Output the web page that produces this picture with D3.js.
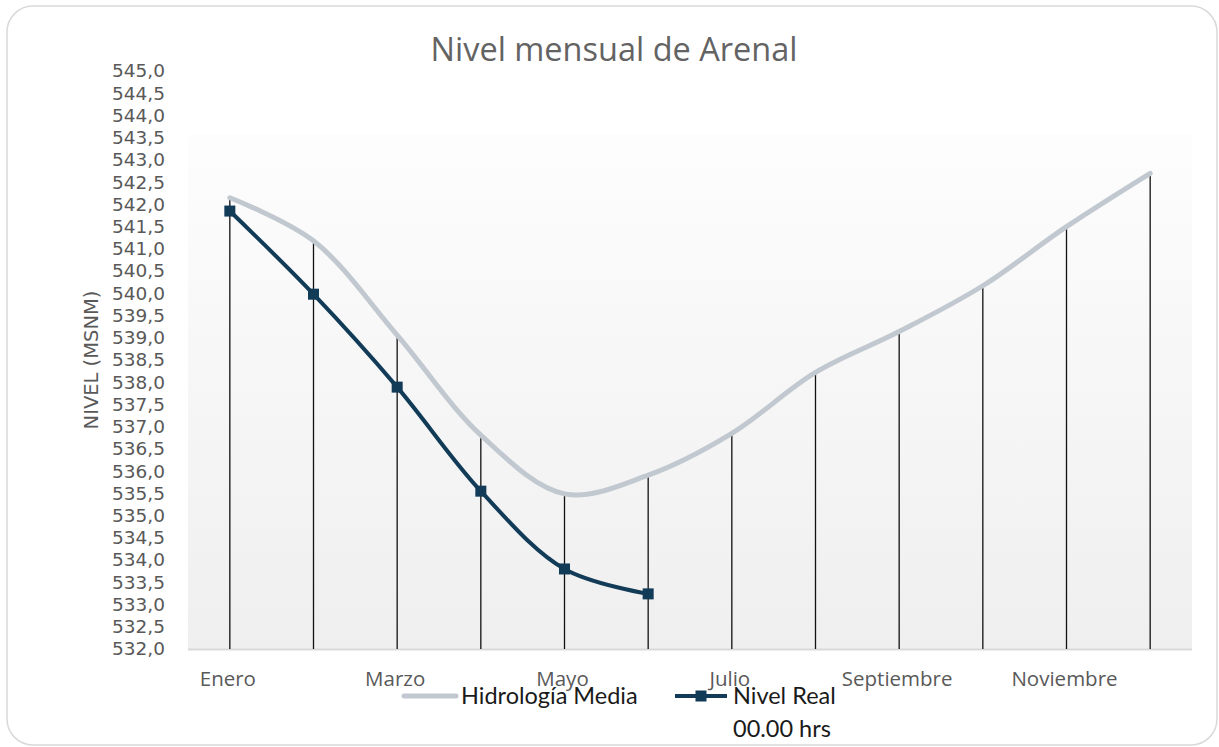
<!DOCTYPE html>
<html>
<head>
<meta charset="utf-8">
<script src="https://cdn.jsdelivr.net/npm/d3@7"></script>
<style>
  body { margin: 0; background: #fff; }
  svg { display: block; }
</style>
</head>
<body>
<svg id="chart"></svg>
<script>
// data
let months = ["Enero", "Febrero", "Marzo", "Abril", "Mayo", "Junio", "Julio",
  "Agosto", "Septiembre", "Octubre", "Noviembre", "Diciembre"];
let hidrologia = [542.15, 541.18, 539.06, 536.81, 535.49, 535.91, 536.85,
  538.22, 539.14, 540.17, 541.5, 542.7];
let nivelReal = [541.85, 539.98, 537.89, 535.55, 533.8, 533.24];
let yTicks = d3.range(532, 545.01, 0.5);

let width = 1219,
  height = 747;
let plot = { left: 188, right: 1192, top: 71, bottom: 649, bgTop: 135 };

let svg = d3.select("#chart").attr("width", width).attr("height", height);

let defs = svg.append("defs");
let grad = defs.append("linearGradient")
  .attr("id", "bg").attr("x1", 0).attr("y1", 0).attr("x2", 0).attr("y2", 1);
grad.append("stop").attr("offset", "0%").attr("stop-color", "#fdfdfd");
grad.append("stop").attr("offset", "100%").attr("stop-color", "#efefef");

// outer frame
svg.append("rect")
  .attr("x", 7).attr("y", 6)
  .attr("width", 1210).attr("height", 739)
  .attr("rx", 26)
  .attr("fill", "#fff")
  .attr("stroke", "#d9d9d9")
  .attr("stroke-width", 1.5);

let x = d3.scaleBand().domain(months).range([plot.left, plot.right]).padding(0);
let cx = (m) => x(m) + x.bandwidth() / 2;
let y = d3.scaleLinear().domain([532, 545]).range([plot.bottom, plot.top]);

// plot area fill
svg.append("rect")
  .attr("x", plot.left).attr("y", plot.bgTop)
  .attr("width", plot.right - plot.left)
  .attr("height", plot.bottom - plot.bgTop)
  .attr("fill", "url(#bg)");

// bottom axis line
svg.append("line")
  .attr("x1", plot.left).attr("x2", plot.right)
  .attr("y1", plot.bottom + 0.5).attr("y2", plot.bottom + 0.5)
  .attr("stroke", "#d9d9d9").attr("stroke-width", 2);

// drop lines from the highest series down to the axis
svg.append("g")
  .selectAll("line")
  .data(months)
  .join("line")
  .attr("x1", (d) => cx(d)).attr("x2", (d) => cx(d))
  .attr("y1", (d, i) => y(Math.max(hidrologia[i], nivelReal[i] ?? -Infinity)))
  .attr("y2", plot.bottom)
  .attr("stroke", "#111").attr("stroke-width", 1.3);

// y axis
let yAxis = svg.append("g")
  .attr("transform", "translate(" + plot.left + ",0)")
  .call(d3.axisLeft(y).tickValues(yTicks).tickSize(0).tickPadding(23)
    .tickFormat((d) => d.toFixed(1).replace(".", ",")));
yAxis.select(".domain").remove();
yAxis.selectAll("text")
  .attr("font-family", "DejaVu Sans")
  .attr("font-size", "18.5px")
  .attr("fill", "#595959");

// x axis labels, every other month
svg.append("g")
  .selectAll("text")
  .data(months.filter((d, i) => i % 2 == 0))
  .join("text")
  .attr("x", (d) => cx(d) - 2)
  .attr("y", 686)
  .attr("text-anchor", "middle")
  .attr("font-family", "Open Sans")
  .attr("font-size", "20.5px")
  .attr("fill", "#595959")
  .text((d) => d);

// axis title
svg.append("text")
  .attr("transform", "translate(98,360) rotate(-90)")
  .attr("text-anchor", "middle")
  .attr("font-family", "DejaVu Sans")
  .attr("font-size", "19.5px")
  .attr("fill", "#595959")
  .text("NIVEL (MSNM)");

// chart title
svg.append("text")
  .attr("x", 614).attr("y", 61)
  .attr("text-anchor", "middle")
  .attr("font-family", "Open Sans")
  .attr("font-size", "32.5px")
  .attr("fill", "#636363")
  .text("Nivel mensual de Arenal");

let curve = d3.curveCatmullRom.alpha(0.5);

let line1 = d3.line()
  .x((d, i) => cx(months[i]))
  .y((d) => y(d))
  .curve(curve);

svg.append("path")
  .datum(hidrologia)
  .attr("fill", "none")
  .attr("stroke", "#c1c8d0")
  .attr("stroke-width", 5)
  .attr("stroke-linecap", "round")
  .attr("d", line1);

svg.append("path")
  .datum(nivelReal)
  .attr("fill", "none")
  .attr("stroke", "#123b58")
  .attr("stroke-width", 4)
  .attr("d", line1);

svg.append("g")
  .selectAll("rect")
  .data(nivelReal)
  .join("rect")
  .attr("x", (d, i) => cx(months[i]) - 5.5)
  .attr("y", (d) => y(d) - 5.5)
  .attr("width", 11).attr("height", 11)
  .attr("fill", "#123b58");

// legend
let legend = svg.append("g");
legend.append("line")
  .attr("x1", 404).attr("x2", 456).attr("y1", 696).attr("y2", 696)
  .attr("stroke", "#c1c8d0").attr("stroke-width", 5).attr("stroke-linecap", "round");
legend.append("text")
  .attr("x", 461).attr("y", 704)
  .attr("font-family", "Lato").attr("font-size", "23.5px").attr("fill", "#1a1a1a")
  .text("Hidrología Media");
legend.append("line")
  .attr("x1", 675).attr("x2", 727).attr("y1", 696).attr("y2", 696)
  .attr("stroke", "#123b58").attr("stroke-width", 4);
legend.append("rect")
  .attr("x", 695.5).attr("y", 690.5).attr("width", 11).attr("height", 11)
  .attr("fill", "#123b58");
legend.append("text")
  .attr("x", 733).attr("y", 704)
  .attr("font-family", "Lato").attr("font-size", "23.5px").attr("fill", "#1a1a1a")
  .text("Nivel Real");
legend.append("text")
  .attr("x", 733).attr("y", 737)
  .attr("font-family", "Lato").attr("font-size", "23.5px").attr("fill", "#1a1a1a")
  .text("00.00 hrs");
</script>
</body>
</html>
